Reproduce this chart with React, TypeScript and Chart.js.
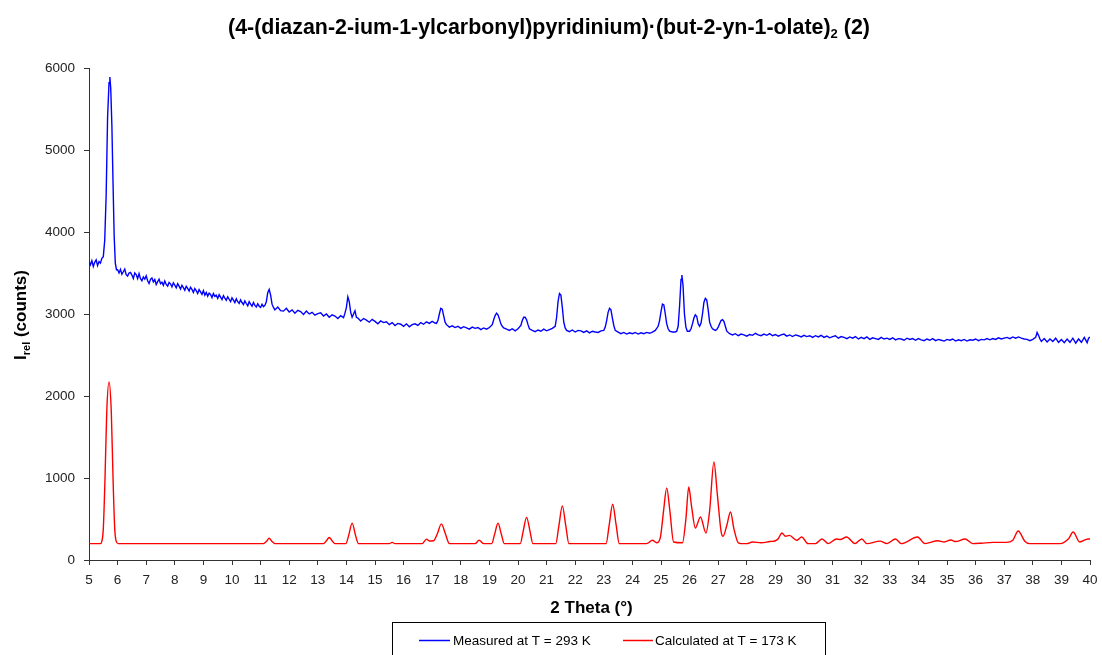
import React, { useEffect, useRef } from 'react';
import { Chart, registerables } from 'chart.js';

Chart.register(...registerables);

const TITLE_MAIN = '(4-(diazan-2-ium-1-ylcarbonyl)pyridinium)·(but-2-yn-1-olate)';
const TITLE_SUB = '2';
const TITLE_TAIL = ' (2)';
const Y_TITLE_MAIN = 'I';
const Y_TITLE_SUB = 'rel';
const Y_TITLE_TAIL = ' (counts)';
const X_TITLE = '2 Theta (°)';
const SERIES_NAMES = ['Measured at T = 293 K', 'Calculated at T = 173 K'];
const X_RANGE = [5, 40];
const Y_RANGE = [0, 6000];
const X_STEP = 1;
const Y_STEP = 1000;

// Measured pattern (2θ, counts)
const measured: [number, number][] = [
  [5.00,3640],[5.05,3600],[5.10,3650],[5.15,3580],[5.20,3630],[5.25,3660],[5.30,3590],[5.35,3640],[5.40,3620],[5.45,3680],[5.50,3700],
  [5.55,3900],[5.60,4450],[5.65,5400],[5.70,5820],[5.73,5890],[5.76,5750],[5.80,5300],[5.84,4600],[5.88,3950],[5.92,3620],[5.96,3540],
  [6.00,3540],[6.05,3500],[6.10,3545],[6.15,3485],[6.20,3515],[6.25,3548],[6.30,3480],[6.35,3462],[6.40,3500],[6.45,3508],
  [6.50,3475],[6.55,3432],[6.60,3500],[6.65,3480],[6.70,3430],[6.75,3492],[6.80,3430],[6.85,3405],[6.90,3450],[6.95,3425],
  [7.00,3465],[7.05,3405],[7.10,3372],[7.15,3423],[7.20,3440],[7.25,3392],[7.30,3420],[7.35,3360],[7.40,3395],[7.45,3425],
  [7.50,3370],[7.55,3388],[7.60,3350],[7.65,3402],[7.70,3360],[7.75,3340],[7.80,3385],[7.85,3368],[7.90,3330],[7.95,3380],
  [8.00,3352],[8.05,3320],[8.10,3370],[8.15,3340],[8.20,3305],[8.25,3350],[8.30,3322],[8.35,3290],[8.40,3338],[8.45,3312],
  [8.50,3280],[8.55,3325],[8.60,3300],[8.65,3262],[8.70,3310],[8.75,3285],[8.80,3250],[8.85,3298],[8.90,3270],[8.95,3240],
  [9.00,3285],[9.05,3230],[9.10,3262],[9.15,3218],[9.20,3255],[9.25,3238],[9.30,3200],[9.35,3250],[9.40,3215],[9.45,3230],
  [9.50,3190],[9.55,3235],[9.60,3205],[9.65,3175],[9.70,3225],[9.75,3195],[9.80,3168],[9.85,3210],[9.90,3180],[9.95,3150],
  [10.00,3198],[10.05,3170],[10.10,3140],[10.15,3185],[10.20,3150],[10.25,3130],[10.30,3172],[10.35,3140],[10.40,3115],[10.45,3160],
  [10.50,3128],[10.55,3100],[10.60,3150],[10.65,3120],[10.70,3095],[10.75,3140],[10.80,3105],[10.85,3085],[10.90,3125],[10.95,3095],
  [11.00,3080],[11.05,3118],[11.10,3090],[11.15,3105],[11.20,3150],[11.25,3260],[11.30,3300],[11.35,3230],[11.40,3120],[11.45,3080],
  [11.50,3050],[11.60,3085],[11.70,3040],[11.80,3035],[11.90,3070],[12.00,3025],[12.10,3050],[12.20,3010],[12.30,3045],[12.40,3030],
  [12.50,2995],[12.60,3035],[12.70,3000],[12.80,3020],[12.90,2985],[13.00,3005],[13.10,3015],[13.20,2975],[13.30,3000],[13.40,2960],
  [13.50,2990],[13.60,2975],[13.70,2945],[13.80,2980],[13.90,2955],[13.95,3010],[14.00,3080],[14.05,3210],[14.10,3150],[14.15,3020],
  [14.20,2960],[14.25,3000],[14.30,3040],[14.35,2960],[14.40,2950],[14.50,2915],[14.60,2945],[14.70,2925],[14.80,2900],[14.90,2935],
  [15.00,2910],[15.10,2880],[15.20,2915],[15.30,2895],[15.40,2905],[15.50,2870],[15.60,2895],[15.70,2860],[15.80,2885],[15.90,2875],
  [16.00,2850],[16.10,2880],[16.20,2845],[16.30,2870],[16.40,2880],[16.50,2860],[16.60,2895],[16.70,2875],[16.80,2905],[16.90,2885],
  [17.00,2910],[17.10,2890],[17.15,2885],[17.20,2920],[17.25,3000],[17.30,3070],[17.35,3060],[17.40,2980],[17.45,2900],
  [17.50,2870],[17.60,2840],[17.70,2855],[17.80,2835],[17.90,2850],[18.00,2825],[18.10,2845],[18.20,2830],[18.30,2815],[18.40,2840],
  [18.50,2825],[18.60,2835],[18.70,2810],[18.80,2830],[18.90,2815],[19.00,2835],[19.10,2870],[19.15,2930],[19.20,2980],[19.25,3010],
  [19.30,2990],[19.35,2940],[19.40,2880],[19.45,2850],[19.50,2830],[19.60,2815],[19.70,2800],[19.80,2820],[19.90,2795],[20.00,2820],
  [20.10,2860],[20.15,2920],[20.20,2960],[20.25,2960],[20.30,2930],[20.35,2870],[20.40,2820],[20.50,2800],[20.60,2785],[20.70,2805],
  [20.80,2790],[20.90,2815],[21.00,2795],[21.10,2810],[21.20,2825],[21.30,2850],[21.35,2960],[21.40,3150],[21.45,3250],[21.50,3230],
  [21.55,3080],[21.60,2900],[21.65,2830],[21.70,2800],[21.80,2785],[21.90,2805],[22.00,2780],[22.10,2800],[22.20,2795],[22.30,2775],
  [22.40,2795],[22.50,2770],[22.60,2790],[22.70,2780],[22.80,2775],[22.90,2795],[23.00,2800],[23.05,2840],[23.10,2920],[23.15,3020],
  [23.20,3070],[23.25,3050],[23.30,2950],[23.35,2860],[23.40,2800],[23.50,2780],[23.60,2760],[23.70,2775],[23.80,2755],[23.90,2770],
  [24.00,2760],[24.10,2775],[24.20,2755],[24.30,2770],[24.40,2760],[24.50,2775],[24.60,2765],[24.70,2780],[24.80,2800],[24.90,2850],
  [24.95,2920],[25.00,3030],[25.05,3120],[25.10,3110],[25.15,3000],[25.20,2880],[25.25,2820],[25.30,2790],[25.40,2780],[25.50,2780],
  [25.55,2790],[25.60,2850],[25.65,3100],[25.70,3420],[25.73,3475],[25.77,3350],[25.82,3000],[25.87,2840],[25.92,2790],[26.00,2790],
  [26.05,2820],[26.10,2880],[26.15,2950],[26.20,2990],[26.25,2970],[26.30,2880],[26.35,2850],[26.40,2890],[26.45,3000],[26.50,3140],
  [26.55,3190],[26.60,3170],[26.65,3050],[26.70,2900],[26.75,2850],[26.80,2820],[26.85,2810],[26.90,2800],[26.95,2810],[27.00,2840],
  [27.05,2880],[27.10,2920],[27.15,2930],[27.20,2910],[27.25,2850],[27.30,2790],[27.40,2760],[27.50,2745],[27.60,2760],[27.70,2735],
  [27.80,2755],[27.90,2745],[28.00,2730],[28.10,2750],[28.20,2740],[28.30,2765],[28.40,2745],[28.50,2735],[28.60,2755],[28.70,2740],
  [28.80,2760],[28.90,2735],[29.00,2750],[29.10,2730],[29.20,2745],[29.30,2755],[29.40,2730],[29.50,2745],[29.60,2725],[29.70,2745],
  [29.80,2735],[29.90,2720],[30.00,2740],[30.10,2725],[30.20,2735],[30.30,2715],[30.40,2735],[30.50,2720],[30.60,2740],[30.70,2715],
  [30.80,2730],[30.90,2710],[31.00,2725],[31.10,2735],[31.20,2705],[31.30,2725],[31.40,2715],[31.50,2700],[31.60,2720],[31.70,2705],
  [31.80,2725],[31.90,2695],[32.00,2715],[32.10,2700],[32.20,2720],[32.30,2690],[32.40,2710],[32.50,2700],[32.60,2690],[32.70,2715],
  [32.80,2695],[32.90,2705],[33.00,2690],[33.10,2710],[33.20,2685],[33.30,2700],[33.40,2695],[33.50,2680],[33.60,2705],[33.70,2690],
  [33.80,2700],[33.90,2680],[34.00,2700],[34.10,2685],[34.20,2675],[34.30,2695],[34.40,2680],[34.50,2700],[34.60,2675],[34.70,2690],
  [34.80,2680],[34.90,2670],[35.00,2690],[35.10,2680],[35.20,2695],[35.30,2670],[35.40,2685],[35.50,2675],[35.60,2690],[35.70,2670],
  [35.80,2685],[35.90,2680],[36.00,2695],[36.10,2675],[36.20,2690],[36.30,2685],[36.40,2700],[36.50,2685],[36.60,2700],[36.70,2690],
  [36.80,2710],[36.90,2695],[37.00,2705],[37.10,2715],[37.20,2700],[37.30,2720],[37.40,2705],[37.50,2720],[37.60,2705],[37.70,2695],
  [37.80,2690],[37.90,2675],[38.00,2690],[38.10,2715],[38.15,2775],[38.20,2740],[38.25,2695],[38.30,2665],[38.40,2700],[38.50,2660],
  [38.60,2695],[38.70,2665],[38.80,2705],[38.90,2655],[39.00,2690],[39.10,2650],[39.20,2695],[39.30,2655],[39.40,2705],[39.50,2645],
  [39.60,2695],[39.70,2655],[39.80,2715],[39.90,2650],[39.95,2705],[40.00,2720]
];

// Calculated pattern (2θ, counts)
const calculated: [number, number][] = [
  [5.0,200],[5.40,200],[5.45,230],[5.50,380],[5.56,1000],[5.62,1800],[5.70,2170],[5.78,1800],[5.84,1000],[5.90,380],[5.95,230],[6.02,200],
  [11.1,200],[11.2,225],[11.3,265],[11.4,225],[11.5,200],
  [13.2,200],[13.3,235],[13.4,275],[13.5,235],[13.6,200],
  [13.98,200],[14.08,300],[14.2,450],[14.32,300],[14.42,200],
  [15.5,200],[15.6,215],[15.7,200],
  [16.65,200],[16.8,255],[16.9,232],[17.05,235],[17.18,320],[17.32,440],[17.46,320],[17.6,200],
  [18.5,200],[18.64,240],[18.8,200],
  [19.08,200],[19.18,310],[19.3,450],[19.42,310],[19.52,200],
  [20.08,200],[20.18,350],[20.3,520],[20.42,350],[20.52,200],
  [21.32,200],[21.43,420],[21.55,660],[21.67,420],[21.78,200],
  [23.08,200],[23.19,430],[23.31,680],[23.43,430],[23.54,200],
  [24.5,200],[24.7,240],[24.85,210],[24.98,280],[25.09,600],[25.2,880],[25.31,600],[25.44,220],
  [25.75,210],[25.87,500],[25.97,890],[26.07,650],[26.2,390],[26.38,525],[26.57,330],[26.7,600],[26.85,1195],
  [26.97,800],[27.1,350],[27.17,290],[27.3,420],[27.43,585],[27.55,380],[27.7,210],[27.8,200],
  [28.0,200],[28.2,220],[28.5,210],[28.8,225],[29.0,235],[29.1,260],[29.23,330],[29.35,290],[29.49,300],[29.74,240],
  [29.92,280],[30.14,200],[30.4,200],[30.63,256],[30.85,200],[31.14,256],[31.26,250],[31.49,280],[31.78,200],[32.02,256],
  [32.2,200],[32.66,230],[32.9,200],[33.2,256],[33.4,200],[33.97,280],[34.23,200],[34.68,235],[34.9,220],[35.14,244],
  [35.3,225],[35.63,256],[35.9,200],[36.2,205],[36.61,215],[37.07,215],[37.3,240],[37.49,354],[37.72,230],[37.9,200],
  [38.95,200],[39.25,260],[39.41,341],[39.64,220],[39.93,256],[40.0,256]
];

const FONT = '"Liberation Sans", Arial, Helvetica, sans-serif';

const decorPlugin = {
  id: 'decor',
  afterDraw(chart: any) {
    const ctx: CanvasRenderingContext2D = chart.ctx;
    const w = chart.width;
    ctx.save();
    ctx.fillStyle = '#000';
    ctx.textAlign = 'left';
    ctx.textBaseline = 'alphabetic';

    // Title
    const big = `bold 21.4px ${FONT}`;
    const small = `bold 13px ${FONT}`;
    ctx.font = big;
    const w1 = ctx.measureText(TITLE_MAIN).width;
    const w3 = ctx.measureText(TITLE_TAIL).width;
    ctx.font = small;
    const w2 = ctx.measureText(TITLE_SUB).width;
    let x = w / 2 - (w1 + w2 + w3) / 2 - 2;
    const by = 34;
    ctx.font = big;
    ctx.fillText(TITLE_MAIN, x, by);
    x += w1;
    ctx.font = small;
    ctx.fillText(TITLE_SUB, x, by + 4);
    x += w2;
    ctx.font = big;
    ctx.fillText(TITLE_TAIL, x, by);

    // X axis title
    const area = chart.chartArea;
    ctx.font = `bold 17px ${FONT}`;
    ctx.textAlign = 'center';
    ctx.fillText(X_TITLE, (area.left + area.right) / 2 + 2, 613);

    // Y axis title (rotated, with subscript)
    ctx.save();
    ctx.translate(26, 315);
    ctx.rotate(-Math.PI / 2);
    ctx.textAlign = 'left';
    const yb = `bold 17px ${FONT}`;
    const ys = `bold 11px ${FONT}`;
    ctx.font = yb;
    const a1 = ctx.measureText(Y_TITLE_MAIN).width;
    const a3 = ctx.measureText(Y_TITLE_TAIL).width;
    ctx.font = ys;
    const a2 = ctx.measureText(Y_TITLE_SUB).width;
    let yx = -(a1 + a2 + a3) / 2;
    ctx.font = yb;
    ctx.fillText(Y_TITLE_MAIN, yx, 0);
    yx += a1;
    ctx.font = ys;
    ctx.fillText(Y_TITLE_SUB, yx, 4);
    yx += a2;
    ctx.font = yb;
    ctx.fillText(Y_TITLE_TAIL, yx, 0);
    ctx.restore();

    // Legend box
    ctx.strokeStyle = '#000';
    ctx.lineWidth = 1;
    ctx.strokeRect(392.5, 622.5, 433, 50);
    ctx.font = `13.5px ${FONT}`;
    ctx.textAlign = 'left';
    ctx.textBaseline = 'middle';
    const items = [
      { color: '#0000ff', x0: 419, x1: 450, tx: 453, label: SERIES_NAMES[0] },
      { color: '#ff0000', x0: 623, x1: 653, tx: 655, label: SERIES_NAMES[1] },
    ];
    for (const it of items) {
      ctx.strokeStyle = it.color;
      ctx.lineWidth = 1.5;
      ctx.beginPath();
      ctx.moveTo(it.x0, 640.5);
      ctx.lineTo(it.x1, 640.5);
      ctx.stroke();
      ctx.fillStyle = '#000';
      ctx.fillText(it.label, it.tx, 641);
    }
    ctx.restore();
  },
};

export default function App() {
  const canvasRef = useRef<HTMLCanvasElement | null>(null);

  useEffect(() => {
    const canvas = canvasRef.current;
    if (!canvas) return;
    const xTickFont = { family: FONT, size: 13.5, lineHeight: 1.6 };
    const yTickFont = { family: FONT, size: 13.5 };
    const chart = new Chart(canvas, {
      type: 'line',
      data: {
        datasets: [
          {
            label: SERIES_NAMES[0],
            data: measured.map(([x, y]) => ({ x, y })),
            borderColor: '#0000ff',
            backgroundColor: '#0000ff',
            borderWidth: 1.4,
            pointRadius: 0,
            tension: 0,
          },
          {
            label: SERIES_NAMES[1],
            data: calculated.map(([x, y]) => ({ x, y })),
            borderColor: '#ff0000',
            backgroundColor: '#ff0000',
            borderWidth: 1.4,
            pointRadius: 0,
            cubicInterpolationMode: 'monotone',
          },
        ],
      },
      options: {
        animation: false,
        responsive: false,
        devicePixelRatio: 1,
        layout: { padding: { left: 0, right: 12, top: 68, bottom: 0 } },
        plugins: {
          legend: { display: false },
          title: { display: false },
          tooltip: { enabled: false },
        },
        scales: {
          x: {
            type: 'linear',
            min: X_RANGE[0],
            max: X_RANGE[1],
            afterFit: (s: any) => { s.height = 95; },
            ticks: {
              stepSize: X_STEP,
              autoSkip: false,
              maxRotation: 0,
              minRotation: 0,
              padding: 4,
              color: '#222',
              font: xTickFont,
              callback: (v: any) => String(v),
            },
            grid: { display: true, drawOnChartArea: false, drawTicks: true, tickLength: 5, color: '#333' },
            border: { display: true, color: '#333', width: 1 },
          },
          y: {
            type: 'linear',
            min: Y_RANGE[0],
            max: Y_RANGE[1],
            afterFit: (s: any) => { s.width = 89; },
            ticks: {
              stepSize: Y_STEP,
              padding: 9,
              color: '#222',
              font: yTickFont,
              callback: (v: any) => String(v),
            },
            grid: { display: true, drawOnChartArea: false, drawTicks: true, tickLength: 5, color: '#333' },
            border: { display: true, color: '#333', width: 1 },
          },
        },
      },
      plugins: [decorPlugin],
    } as any);
    return () => chart.destroy();
  }, []);

  return (
    <div style={{ position: 'fixed', left: 0, top: 0, width: 1102, height: 655, background: '#fff' }}>
      <canvas ref={canvasRef} width={1102} height={655} style={{ display: 'block', width: 1102, height: 655 }} />
    </div>
  );
}
